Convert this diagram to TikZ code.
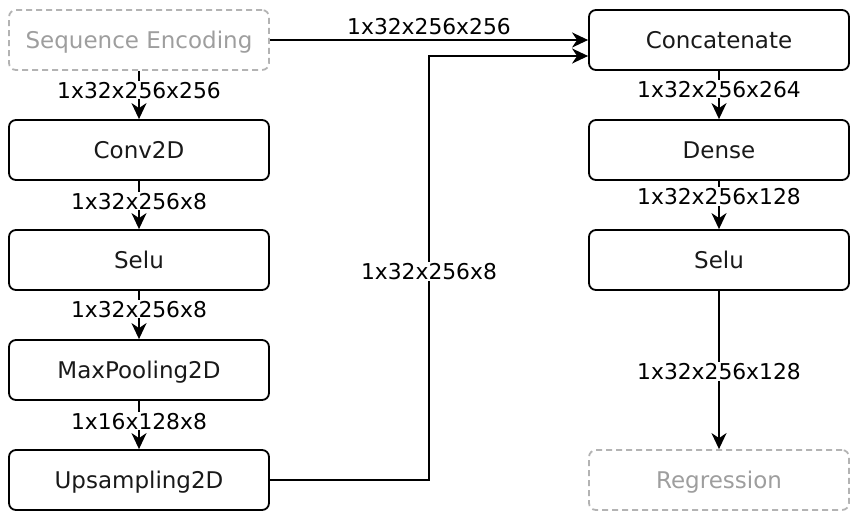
\documentclass[tikz,border=0pt]{standalone}
\usepackage{fontspec}
\setmainfont{DejaVu Sans}
\usetikzlibrary{arrows.meta}
\definecolor{dgray}{HTML}{B3B3B3}
\definecolor{tgray}{HTML}{9E9E9E}
\begin{document}
\begin{tikzpicture}[x=1pt,y=-1pt,
  blk/.style={draw=black,line width=1.8pt,rounded corners=7pt,minimum width=260pt,minimum height=60pt,inner sep=0pt,text=black!90,font=\fontsize{23}{27}\selectfont,text height=16.5pt,text depth=0pt},
  ghost/.style={blk,draw=dgray,dash pattern=on 6pt off 4pt,text=tgray},
  conn/.style={line width=2pt,-{Stealth[length=16pt,width=15pt,inset=5pt]}},
  lab/.style={fill=white,inner sep=1pt,text=black,font=\fontsize{21.8}{26}\selectfont}]
\useasboundingbox (0,0) rectangle (858,519);
\node[ghost] (seq) at (139,40) {Sequence Encoding};
\node[blk] (conv) at (139,150) {Conv2D};
\node[blk] (selu1) at (139,260) {Selu};
\node[blk] (pool) at (139,370) {MaxPooling2D};
\node[blk] (up) at (139,480) {Upsampling2D};
\node[blk] (cat) at (719,40) {Concatenate};
\node[blk] (dense) at (719,150) {Dense};
\node[blk] (selu2) at (719,260) {Selu};
\node[ghost] (reg) at (719,480) {Regression};
\coordinate (turn) at (429,480);
\coordinate (catin) at ([yshift=-16pt]cat.west);

\draw[conn] (seq) -- node[lab,pos=0.4] {1x32x256x256} (conv);
\draw[conn] (conv) -- node[lab,pos=0.42] {1x32x256x8} (selu1);
\draw[conn] (selu1) -- node[lab,pos=0.38] {1x32x256x8} (pool);
\draw[conn] (pool) -- node[lab,pos=0.42] {1x16x128x8} (up);
\draw[conn] (seq.east) -- node[lab,above=3pt,fill=none] {1x32x256x256} (cat.west);
\draw[conn] (up.east) -- (turn) |- node[lab,pos=0.246] {1x32x256x8} (catin);
\draw[conn] (cat) -- node[lab,pos=0.38] {1x32x256x264} (dense);
\draw[conn] (dense) -- node[lab,pos=0.32] {1x32x256x128} (selu2);
\draw[conn] (selu2) -- node[lab,pos=0.51] {1x32x256x128} (reg);
\end{tikzpicture}
\end{document}
